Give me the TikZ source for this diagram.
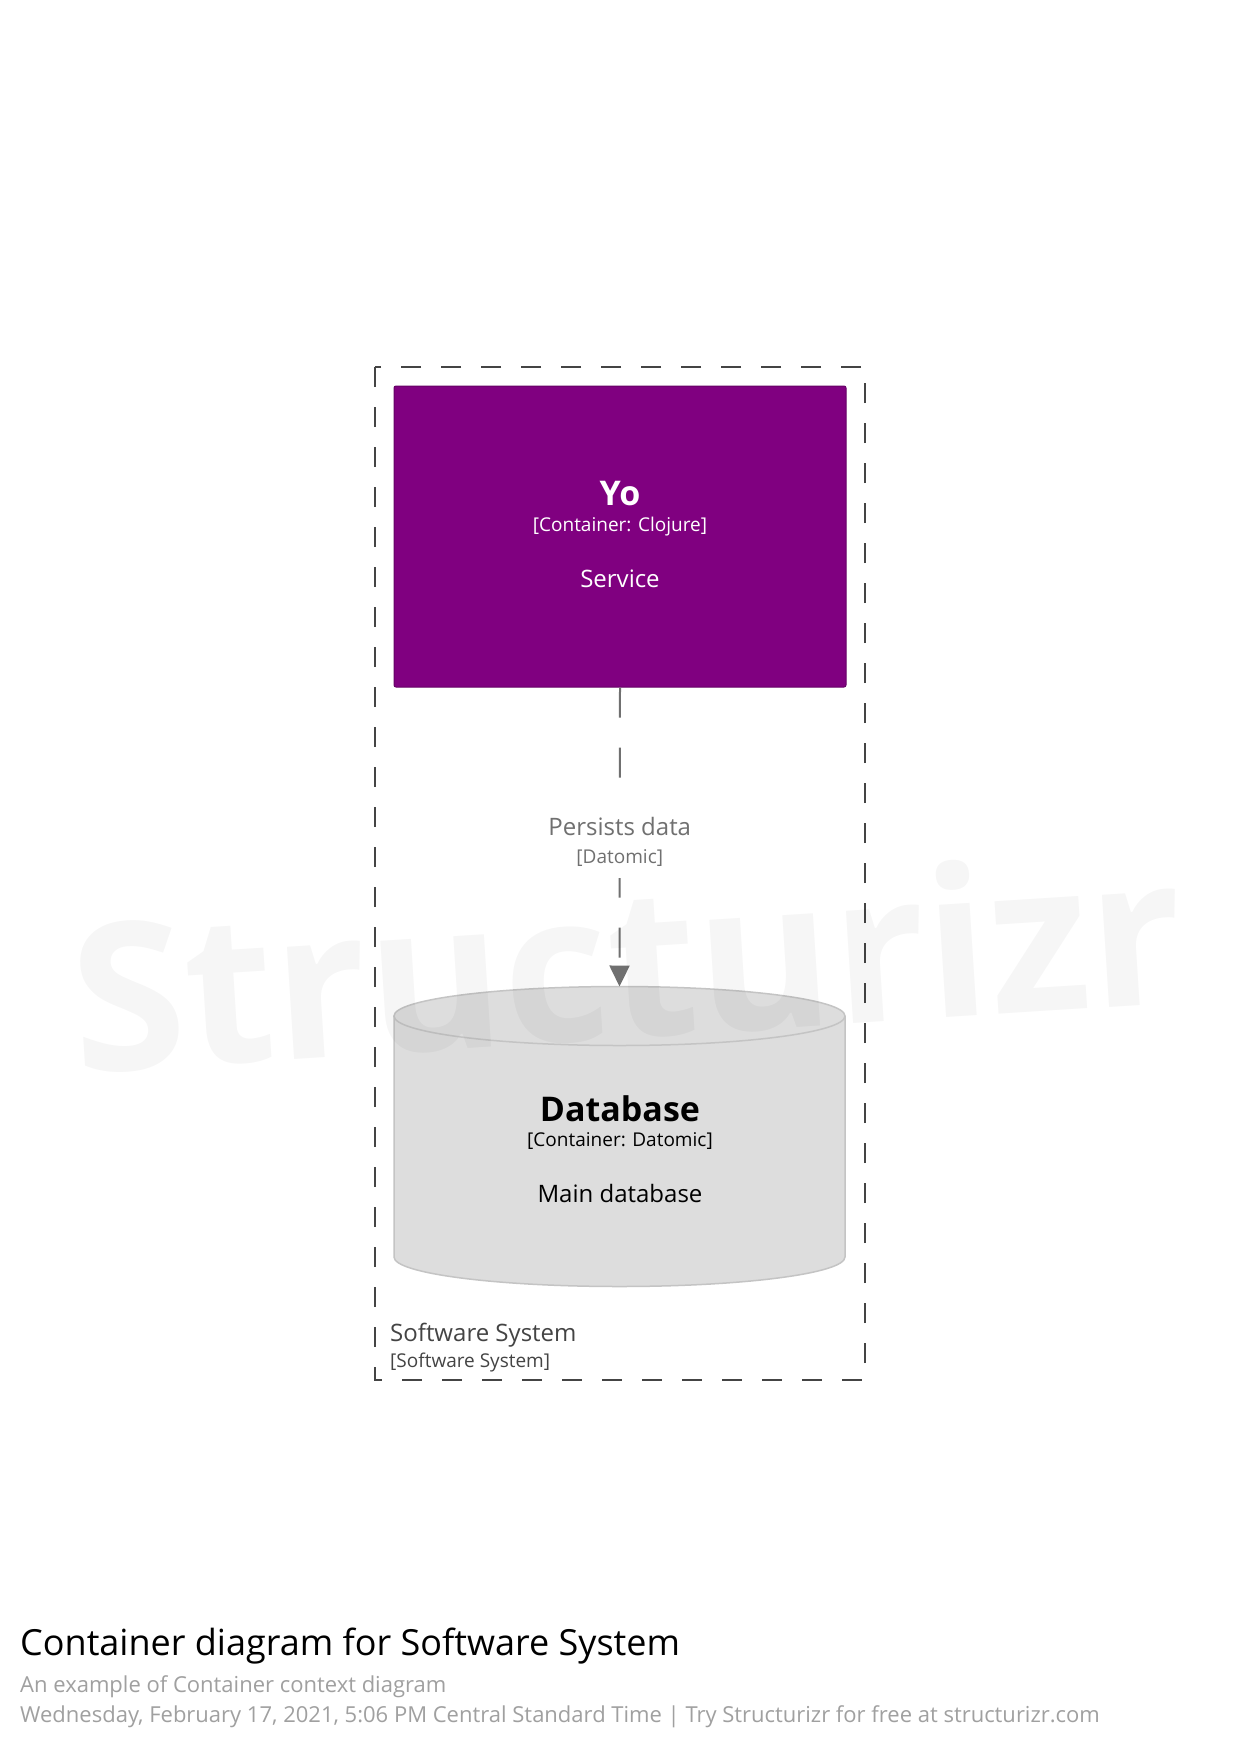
\documentclass[tikz,border=0pt]{standalone}
\usepackage{fontspec}
\setmainfont{Open Sans}
\usepackage{xcolor}
\usetikzlibrary{arrows.meta}
\definecolor{yopurple}{HTML}{800080}
\definecolor{yoborder}{HTML}{650065}
\definecolor{dbgray}{HTML}{DDDDDD}
\definecolor{dbborder}{HTML}{C4C4C4}
\definecolor{relgray}{HTML}{707070}
\definecolor{bndgray}{HTML}{444444}
\definecolor{metagray}{HTML}{A0A0A0}
\newcommand{\fsz}[1]{\fontsize{#1}{#1}\selectfont}

\begin{document}
\begin{tikzpicture}[x=1pt,y=-1pt,
		elname/.style={anchor=base,inner sep=0pt,font=\fsz{34}\bfseries},
		eltech/.style={anchor=base,inner sep=0pt,font=\fsz{19}},
		eldesc/.style={anchor=base,inner sep=0pt,font=\fsz{24}},
		rel/.style={relgray,line width=2pt,dash pattern=on 30pt off 30pt,-{Triangle[width=20pt,length=21pt]}}]
			\useasboundingbox[fill=white] (0,0) rectangle (1240,1748);
			% software system boundary
			\draw[bndgray,line width=2pt,dash pattern=on 20pt off 20pt] (375,367) rectangle (865,1380);
			\node[eldesc,anchor=base west,text=bndgray] (sysname) at (390,1341) {Software System};
			\node[eltech,anchor=base west,text=bndgray] (systype) at (390,1367) {[Software System]};
			% Yo container
			\node[draw=yoborder,fill=yopurple,rounded corners=2pt,line width=1pt,minimum width=452pt,minimum height=301pt] (yo) at (620,536.5) {};
			\node[elname,text=white] (yoname) at (620,505) {Yo};
			\node[eltech,text=white] (yotech) at (620,531) {[Container: Clojure]};
			\node[eldesc,text=white] (yodesc) at (620,587) {Service};
			% Database container
			\fill[dbgray] (394,1016) -- (394,1257) arc[start angle=180,end angle=0,x radius=225.5,y radius=29.5] -- (845,1016) -- cycle;
			\draw[dbborder,line width=1.5pt] (394,1016) -- (394,1257) arc[start angle=180,end angle=0,x radius=225.5,y radius=29.5] -- (845,1016);
			\draw[dbborder,fill=dbgray,line width=1.5pt] (619.5,1016) ellipse[x radius=225.5,y radius=29.5];
			\coordinate (dbtop) at (619.5,986.5);
			\node[elname] (dbname) at (620,1121) {Database};
			\node[eltech] (dbtech) at (620,1146) {[Container: Datomic]};
			\node[eldesc] (dbdesc) at (620,1202) {Main database};
			% relationship
			\draw[rel] (yo.south) -- node[pos=0.515,fill=white,inner xsep=3pt,inner ysep=12pt,align=center,text=relgray,font=\fsz{24}] (persists) {Persists data\\[4pt]{\fsz{19}[Datomic]}} (dbtop);
			% title and meta data
			\node[anchor=base west,inner sep=0pt,font=\fsz{36}] (title) at (20,1655) {Container diagram for Software System};
			\node[anchor=base west,inner sep=0pt,font=\fsz{22},text=metagray] (subtitle) at (20,1692) {An example of Container context diagram};
			\node[anchor=base west,inner sep=0pt,font=\fsz{22},text=metagray] (stamp) at (20,1722) {Wednesday, February 17, 2021, 5:06 PM Central Standard Time | Try Structurizr for free at structurizr.com};
			% watermark
			\node[anchor=base west,inner sep=0pt,rotate=3.64,font=\fsz{206}\bfseries,text=black,text opacity=0.035] (mark) at (76,1073) {Structurizr};
		\end{tikzpicture}
\end{document}
